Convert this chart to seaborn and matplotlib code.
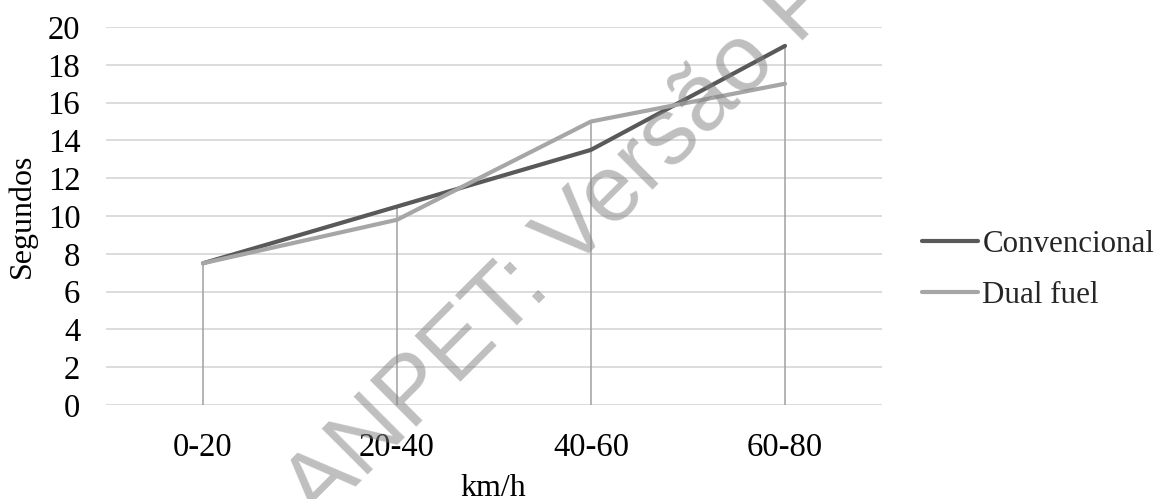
import matplotlib
matplotlib.use("Agg")
import matplotlib.pyplot as plt
import seaborn as sns
import pandas as pd
import numpy as np

categories = ["0-20", "20-40", "40-60", "60-80"]
convencional = [7.5, 10.5, 13.5, 19.0]
dual_fuel = [7.5, 9.8, 15.0, 17.0]
series_names = ["Convencional", "Dual fuel"]
y_ticks = [0, 2, 4, 6, 8, 10, 12, 14, 16, 18, 20]
watermark = "ANPET: Versão Preliminar"

df = pd.DataFrame({
    "cat": categories * 2,
    "x": list(range(len(categories))) * 2,
    "val": convencional + dual_fuel,
    "serie": [series_names[0]] * len(categories) + [series_names[1]] * len(categories),
})

sns.set_theme(style="white")
plt.rcParams["font.family"] = ["Liberation Serif", "DejaVu Serif"]

FS_TICK = 23.5
FS_TITLE = 23
FS_LEG = 22.3
W, H = 1160, 499

fig = plt.figure(figsize=(11.6, 4.99), dpi=100)
ax = fig.add_axes([106 / W, 1 - 405 / H, 776 / W, 378 / H])

ax.set_xlim(-0.5, len(categories) - 0.5)
ax.set_ylim(0, 20)
for y in y_ticks:
    ax.axhline(y, color="#d9d9d9", lw=1.3, zorder=0)

# drop lines
tops = np.maximum(convencional, dual_fuel)
ax.vlines(range(len(categories)), 0, tops, color="#a0a0a0", lw=1.1, zorder=1)

sns.lineplot(data=df, x="x", y="val", hue="serie", palette={"Convencional": "#595959", "Dual fuel": "#a6a6a6"},
             lw=3.0, ax=ax, zorder=3, legend=True)
for ln in ax.lines:
    ln.set_solid_capstyle("round")

ax.set_xticks(range(len(categories)))
ax.set_xticklabels(categories)
ax.set_yticks(y_ticks)
ax.tick_params(axis="both", length=0, labelsize=FS_TICK, colors="black")
ax.tick_params(axis="y", pad=18.5)
ax.tick_params(axis="x", pad=20)
for s in ax.spines.values():
    s.set_visible(False)

ax.set_ylabel("Segundos", fontsize=FS_TITLE, color="black")
ax.set_xlabel("km/h", fontsize=FS_TITLE, color="black")
ax.yaxis.set_label_coords((22 - 106) / 776, (405 - 216) / 378)
ax.yaxis.label.set_va("center")
ax.xaxis.set_label_coords(0.499, (405 - 489) / 378)
ax.xaxis.label.set_va("center")

handles, labels = ax.get_legend_handles_labels()
leg = ax.legend(handles, labels, loc="center left", bbox_to_anchor=(922 / W, 1 - 270 / H),
                bbox_transform=fig.transFigure, frameon=False, fontsize=FS_LEG, handlelength=1.8,
                handletextpad=0.15, labelspacing=0.7, borderpad=0, borderaxespad=0)
for h in leg.get_lines():
    h.set_linewidth(3.0)
    h.set_solid_capstyle("round")

# watermark: place so that the tip of the "V" lands where it is in the reference
WM_FS = 68
ANG = 45.0
wm_font = ["Liberation Sans", "DejaVu Sans"]
renderer = fig.canvas.get_renderer()
t1 = fig.text(0, 0, "ANPET: V", fontsize=WM_FS, family=wm_font)
t2 = fig.text(0, 0, "V", fontsize=WM_FS, family=wm_font)
w_prefix = t1.get_window_extent(renderer).width - t2.get_window_extent(renderer).width / 2
t1.remove()
t2.remove()
tip_x, tip_y = 593, H - 250
a = np.deg2rad(ANG)
sx = tip_x - w_prefix * np.cos(a)
sy = tip_y - w_prefix * np.sin(a)
fig.text(sx / W, sy / H, watermark, fontsize=WM_FS, family=wm_font, color="#808080", alpha=0.5,
         rotation=ANG, rotation_mode="anchor", ha="left", va="baseline", zorder=10)

fig.savefig("out.png", dpi=100)
